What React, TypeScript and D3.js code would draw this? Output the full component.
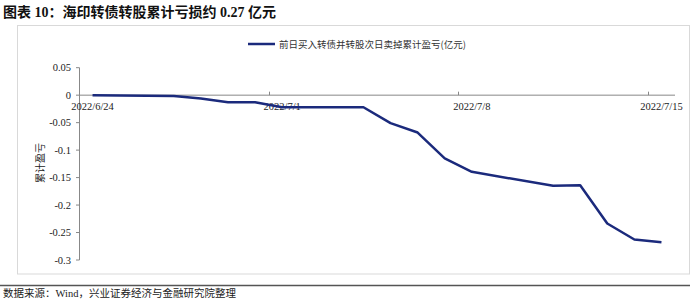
import React from "react";
import * as d3 from "d3";

const dates = [
  "2022-06-24", "2022-06-27", "2022-06-28", "2022-06-29", "2022-06-30",
  "2022-07-01", "2022-07-04", "2022-07-05", "2022-07-06", "2022-07-07",
  "2022-07-08", "2022-07-11", "2022-07-12", "2022-07-13", "2022-07-14", "2022-07-15",
];
const values = [
  0, -0.0016, -0.006, -0.013, -0.013,
  -0.022, -0.022, -0.051, -0.068, -0.115,
  -0.1395, -0.165, -0.1638, -0.2335, -0.2627, -0.2676,
];
const xTickDates = ["2022-06-24", "2022-07-01", "2022-07-08", "2022-07-15"];
const xTickLabels = ["2022/6/24", "2022/7/1", "2022/7/8", "2022/7/15"];
const yTicks = [0.05, 0, -0.05, -0.1, -0.15, -0.2, -0.25, -0.3];
const yTickLabels = ["0.05", "0", "-0.05", "-0.1", "-0.15", "-0.2", "-0.25", "-0.3"];

const title = "图表 10：海印转债转股累计亏损约 0.27 亿元";
const legendLabel = "前日买入转债并转股次日卖掉累计盈亏(亿元)";
const yLabel = "累计盈亏";
const source = "数据来源：Wind，兴业证券经济与金融研究院整理";

const parse = (s: string) => {
  const [y, m, d] = s.split("-").map(Number);
  return new Date(y, m - 1, d);
};

export default function App() {
  const x = d3.scaleTime().domain([parse("2022-06-24"), parse("2022-07-16")]).range([79, 675]);
  const y = d3.scaleLinear().domain([-0.3, 0.05]).range([260, 67.7]);
  const half = 12 * 3600 * 1000;
  const pts: [number, number][] = dates.map((d, i) => [x(new Date(parse(d).getTime() + half)), y(values[i])]);
  const line = d3.line().curve(d3.curveLinear)(pts) || "";
  const serif = "'Liberation Serif', 'Times New Roman', serif";
  const cjk = "'Noto Sans CJK SC', sans-serif";
  const mixed = "'Liberation Serif', 'Noto Sans CJK SC', serif";
  return (
    <svg width={700} height={303} style={{ position: "absolute", left: 0, top: 0, background: "#fff" }}>
      <text x={3} y={17} fontFamily={mixed} fontWeight="bold" fontSize={14} fill="#111">{title}</text>
      <rect x={17.5} y={25.5} width={672} height={248.5} fill="none" stroke="#d9d9d9" strokeWidth={1} />
      {/* legend */}
      <line x1={248} x2={275} y1={44} y2={44} stroke="#1b2a7c" strokeWidth={2.5} />
      <text x={279} y={47.5} fontFamily={cjk} fontSize={9.5} fill="#333">{legendLabel}</text>
      {/* y axis */}
      <line x1={79.5} x2={79.5} y1={y(0.05)} y2={y(-0.3)} stroke="#888" strokeWidth={1} />
      {yTicks.map((t, i) => (
        <g key={i}>
          <line x1={76} x2={79.5} y1={y(t)} y2={y(t)} stroke="#888" strokeWidth={1} />
          <text x={71} y={y(t) + 3.5} textAnchor="end" fontFamily={serif} fontSize={10.5} fill="#222">{yTickLabels[i]}</text>
        </g>
      ))}
      <text transform={`translate(44,${163}) rotate(-90)`} textAnchor="middle" fontFamily={cjk} fontSize={10} fill="#222">{yLabel}</text>
      {/* x axis */}
      <line x1={79.5} x2={675} y1={y(0)} y2={y(0)} stroke="#888" strokeWidth={1} />
      {xTickDates.map((d, i) => {
        const tx = Math.round(x(parse(d))) + 0.5;
        return (
          <g key={d}>
            <line x1={tx} x2={tx} y1={y(0) - 3.5} y2={y(0)} stroke="#888" strokeWidth={1} />
            <text x={x(new Date(parse(d).getTime() + half))} y={y(0) + 15} textAnchor="middle" fontFamily={serif} fontSize={10.5} fill="#222">{xTickLabels[i]}</text>
          </g>
        );
      })}
      <path d={line} fill="none" stroke="#1b2a7c" strokeWidth={2.5} strokeLinejoin="round" />
      <line x1={0} x2={690} y1={285.5} y2={285.5} stroke="#555" strokeWidth={1.5} />
      <text x={3} y={297} fontFamily={mixed} fontSize={10.5} fill="#222">{source}</text>
    </svg>
  );
}
